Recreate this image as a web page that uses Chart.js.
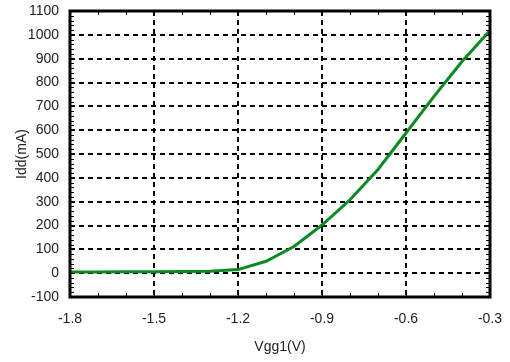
<!DOCTYPE html>
<html>
<head>
<meta charset="utf-8">
<script src="https://cdn.jsdelivr.net/npm/chart.js@4"></script>
<style>
  html, body { margin: 0; padding: 0; background: #fff; }
  #wrap { width: 510px; height: 362px; }
</style>
</head>
<body>
<div id="wrap"><canvas id="chart" width="510" height="362"></canvas></div>
<script>
// Vgg1 (V) sweep and drain current Idd (mA)
const vgg1 = [-1.8, -1.7, -1.6, -1.5, -1.4, -1.3, -1.2, -1.1, -1.0, -0.9, -0.8, -0.7, -0.6, -0.5, -0.4, -0.3];
const idd = [5, 5, 6, 6, 7, 8, 15, 50, 112, 202, 308, 435, 588, 742, 888, 1018];

const xTicks = [-1.8, -1.5, -1.2, -0.9, -0.6, -0.3];
const yTicks = [-100, 0, 100, 200, 300, 400, 500, 600, 700, 800, 900, 1000, 1100];

const fontFamily = "'Liberation Sans', Arial, sans-serif";

// frame + small inward ticks, like the instrument plot
const framePlugin = {
  id: "frame",
  afterDatasetsDraw(chart) {
    const { ctx, chartArea: a, scales } = chart;
    ctx.save();
    ctx.strokeStyle = "#000";
    ctx.lineWidth = 1;
    ctx.beginPath();
    for (let v = -1.8; v <= -0.3 + 1e-9; v += 0.1) {
      const px = Math.round(scales.x.getPixelForValue(v)) + 0.5;
      ctx.moveTo(px, a.bottom); ctx.lineTo(px, a.bottom - 4);
      ctx.moveTo(px, a.top); ctx.lineTo(px, a.top + 4);
    }
    for (let v = -100; v <= 1100; v += 20) {
      const py = Math.round(scales.y.getPixelForValue(v)) + 0.5;
      ctx.moveTo(a.left, py); ctx.lineTo(a.left + 4, py);
      ctx.moveTo(a.right, py); ctx.lineTo(a.right - 4, py);
    }
    ctx.stroke();
    ctx.lineWidth = 3;
    ctx.strokeRect(a.left, a.top, a.right - a.left, a.bottom - a.top);
    ctx.restore();
  }
};

new Chart(document.getElementById("chart"), {
  type: "line",
  data: {
    datasets: [{
      data: vgg1.map((x, i) => ({ x: x, y: idd[i] })),
      borderColor: "#0a8a22",
      borderWidth: 3,
      pointRadius: 0,
      tension: 0,
      fill: false
    }]
  },
  options: {
    responsive: false,
    animation: false,
    layout: { padding: { top: 11, right: 20, left: 0, bottom: 0 } },
    plugins: { legend: { display: false }, tooltip: { enabled: false } },
    scales: {
      x: {
        type: "linear",
        min: -1.8,
        max: -0.3,
        afterBuildTicks: (s) => { s.ticks = xTicks.map(v => ({ value: v })); },
        afterFit: (s) => { s.height = 65; s.paddingLeft = 0; s.paddingRight = 0; },
        ticks: {
          color: "#222",
          font: { family: fontFamily, size: 14 },
          padding: 14,
          maxRotation: 0,
          callback: (v) => v.toFixed(1)
        },
        grid: {
          color: (c) => (c.tick && (c.tick.value === -1.8 || c.tick.value === -0.3)) ? "rgba(0,0,0,0)" : "#000",
          lineWidth: 2,
          drawTicks: false
        },
        border: { display: false, dash: [5, 4] },
        title: {
          display: true,
          text: "Vgg1(V)",
          color: "#222",
          font: { family: fontFamily, size: 14 },
          padding: { top: 0, bottom: 6 }
        }
      },
      y: {
        type: "linear",
        min: -100,
        max: 1100,
        afterBuildTicks: (s) => { s.ticks = yTicks.map(v => ({ value: v })); },
        afterFit: (s) => { s.width = 70; s.paddingTop = 0; s.paddingBottom = 0; },
        ticks: {
          color: "#222",
          font: { family: fontFamily, size: 14 },
          padding: 11,
          callback: (v) => String(v)
        },
        grid: {
          color: (c) => (c.tick && (c.tick.value === -100 || c.tick.value === 1100)) ? "rgba(0,0,0,0)" : "#000",
          lineWidth: 2,
          drawTicks: false
        },
        border: { display: false, dash: [5, 4] },
        title: {
          display: true,
          text: "Idd(mA)",
          color: "#222",
          font: { family: fontFamily, size: 14 },
          padding: { top: 14, bottom: 0 }
        }
      }
    }
  },
  plugins: [framePlugin]
});
</script>
</body>
</html>
